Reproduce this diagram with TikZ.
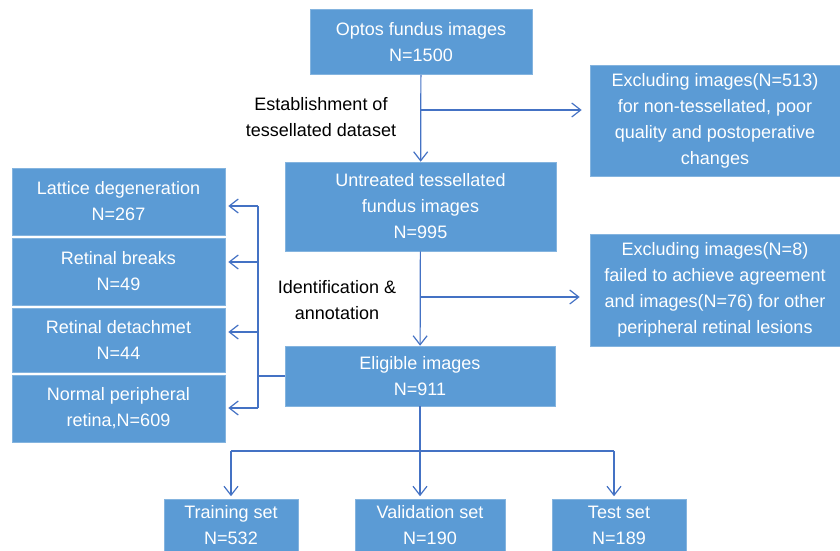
\documentclass[tikz,border=0pt]{standalone}
\usepackage{fontspec}
\setmainfont{Liberation Sans}
\usetikzlibrary{arrows.meta}

\definecolor{boxblue}{HTML}{5B9BD5}
\definecolor{lineblue}{HTML}{4472C4}

\tikzset{
  flowbox/.style={fill=boxblue, draw=boxblue!75!white, line width=0.6pt,
    text=white, align=center, inner sep=0pt},
  link/.style={draw=lineblue, line width=1.2pt},
  linkarr/.style={link, -{Straight Barb[length=9pt,width=14pt,line width=1.2pt]}},
  note/.style={align=center, text=black}
}

\begin{document}
\begin{tikzpicture}[x=1pt, y=-1pt, font=\fontsize{18}{26}\selectfont]
\useasboundingbox (0,0) rectangle (840,551);

% main column
\node[flowbox, minimum width=222pt, minimum height=65pt] (optos) at (421,42)
  {Optos fundus images\\N=1500};
\node[flowbox, minimum width=271pt, minimum height=89pt] (untr) at (420.5,206.5)
  {Untreated tessellated\\fundus images\\N=995};
\node[flowbox, minimum width=270pt, minimum height=60pt] (elig) at (420,376)
  {Eligible images\\N=911};

% exclusions
\node[flowbox, minimum width=250pt, minimum height=111pt] (excl1) at (715,120.5)
  {Excluding images(N=513)\\for non-tessellated, poor\\quality and postoperative\\changes};
\node[flowbox, minimum width=250pt, minimum height=112pt] (excl2) at (715,290)
  {Excluding images(N=8)\\failed to achieve agreement\\and images(N=76) for other\\peripheral retinal lesions};

% lesion classes
\node[flowbox, minimum width=213pt, minimum height=67pt] (lat) at (118.5,201.5)
  {Lattice degeneration\\N=267};
\node[flowbox, minimum width=213pt, minimum height=67pt] (brk) at (118.5,271.5)
  {Retinal breaks\\N=49};
\node[flowbox, minimum width=213pt, minimum height=64pt] (det) at (118.5,340)
  {Retinal detachmet\\N=44};
\node[flowbox, minimum width=213pt, minimum height=67pt] (norm) at (118.5,408.5)
  {Normal peripheral\\retina,N=609};

% data split
\node[flowbox, minimum width=134pt, minimum height=52pt] (train) at (231,525.5)
  {Training set\\N=532};
\node[flowbox, minimum width=150pt, minimum height=52pt] (valid) at (430,525.5)
  {Validation set\\N=190};
\node[flowbox, minimum width=134pt, minimum height=52pt] (test) at (619,525.5)
  {Test set\\N=189};

% step labels
\node[note] (est) at (321,117) {Establishment of\\tessellated dataset};
\node[note] (iden) at (337,300) {Identification \&\\annotation};

% junctions
\coordinate (j1) at (420,110);
\coordinate (j2) at (420,297);
\coordinate (bus) at (258,376);
\coordinate (split) at (420,451);

\draw[linkarr] (optos) -- (untr);
\draw[linkarr, shorten >=8pt] (j1) -- (excl1.west |- j1);
\draw[linkarr] (untr) -- (elig);
\draw[linkarr, shorten >=10pt] (j2) -- (excl2.west |- j2);

\draw[link] (elig.west) -- (bus);
\draw[link] (258,206) -- (258,408);
\foreach \n/\y in {lat/206, brk/262, det/332, norm/408}
  \draw[linkarr, shorten >=3pt] (258,\y) -- (\n.east |- 0,\y);

\draw[link] (elig.south) -- (split);
\draw[link] (231,451) -- (614,451);
\draw[linkarr, shorten >=3pt] (231,451) -- (train.north);
\draw[linkarr, shorten >=3pt] (split) -- (split |- valid.north);
\draw[linkarr, shorten >=3pt] (614,451) -- (614,451 |- test.north);
\end{tikzpicture}
\end{document}
